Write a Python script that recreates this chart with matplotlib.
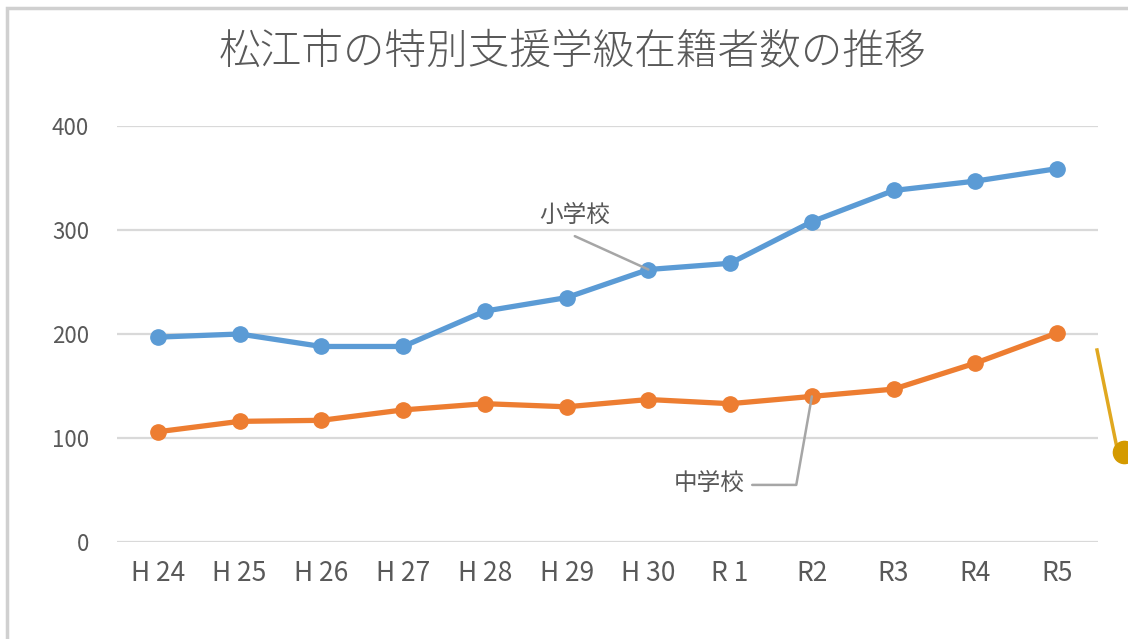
import matplotlib
matplotlib.use("Agg")
import matplotlib.pyplot as plt
from matplotlib.patches import Rectangle

plt.rcParams['font.family'] = ['Noto Sans CJK JP', 'DejaVu Sans']

# data
years = ['H 24', 'H 25', 'H 26', 'H 27', 'H 28', 'H 29', 'H 30', 'R 1', 'R2', 'R3', 'R4', 'R5']
elementary = [197, 200, 188, 188, 222, 235, 262, 268, 308, 338, 347, 359]
junior_high = [106, 116, 117, 127, 133, 130, 137, 133, 140, 147, 172, 201]
y_ticks = [0, 100, 200, 300, 400]

blue = '#5B9BD5'
orange = '#ED7D31'
text_gray = '#595959'
grid_gray = '#D9D9D9'

fig = plt.figure(figsize=(11.28, 6.39), dpi=100)
ax = fig.add_axes([117 / 1128, 1 - 542 / 639, (1098 - 117) / 1128, (542 - 126) / 639])

# chart frame (light gray border, cut off at right/bottom like the screenshot)
fig.patches.append(Rectangle((7 / 1128, -0.05), 1.2, 1 - 8 / 639 + 0.05,
                             transform=fig.transFigure, fill=False,
                             edgecolor='#D0D0D0', linewidth=2.5))

x = list(range(len(years)))
ax.plot(x, elementary, color=blue, linewidth=3.8, marker='o', markersize=11,
        solid_capstyle='round', zorder=3)
ax.plot(x, junior_high, color=orange, linewidth=3.8, marker='o', markersize=11,
        solid_capstyle='round', zorder=3)

ax.set_xlim(-0.5, len(years) - 0.5)
ax.set_ylim(0, 400)
ax.set_yticks(y_ticks)
ax.set_xticks(x)
ax.set_xticklabels(years, fontsize=19, color=text_gray)
ax.set_yticklabels([str(v) for v in y_ticks], fontsize=16, color=text_gray)
ax.tick_params(axis='both', length=0)
ax.tick_params(axis='y', pad=20)
ax.tick_params(axis='x', pad=13)
ax.grid(axis='y', color=grid_gray, linewidth=1.6)
ax.set_axisbelow(True)
for s in ax.spines.values():
    s.set_visible(False)

# data labels with leader lines
ax.annotate('小学校', xy=(6, elementary[6]), xytext=(5.1, 314),
            fontsize=17, color=text_gray, ha='center', va='center',
            arrowprops=dict(arrowstyle='-', color='#A6A6A6', linewidth=1.8,
                            shrinkA=0, shrinkB=0, relpos=(0.5, -0.4)))
ax.annotate('中学校', xy=(8, junior_high[8]), xytext=(6.75, 56),
            fontsize=17, color=text_gray, ha='center', va='center',
            arrowprops=dict(arrowstyle='-', color='#A6A6A6', linewidth=1.8,
                            shrinkA=0, shrinkB=0,
                            connectionstyle='angle,angleA=0,angleB=80,rad=0',
                            relpos=(1.1, 0.45)))

fig.text(572 / 1128, 1 - 52 / 639, '松江市の特別支援学級在籍者数の推移',
         fontsize=30, color=text_gray, ha='center', va='center', fontweight='light')

# stray yellow shape at the right edge of the screenshot
fig.add_artist(plt.Line2D([1097 / 1128, 1117 / 1128], [1 - 350 / 639, 1 - 448 / 639],
                          transform=fig.transFigure, color='#E0A820', linewidth=2.5))
fig.add_artist(plt.Line2D([1124 / 1128], [1 - 452 / 639], transform=fig.transFigure,
                          marker='o', markersize=16, color='#D49A00'))

fig.savefig('out.png', dpi=100)
